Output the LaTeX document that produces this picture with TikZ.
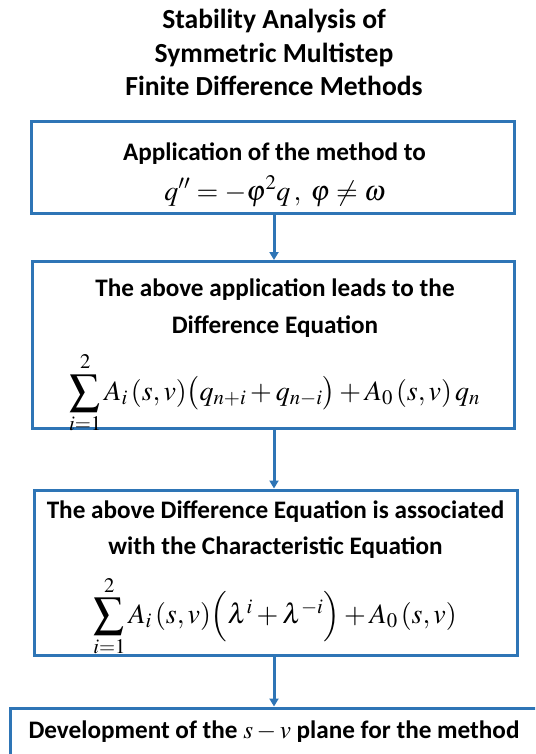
\documentclass[tikz,border=0pt]{standalone}
\usepackage{mathptmx}
\usepackage{graphicx}
\usepackage[no-math]{fontspec}
\setmainfont{Carlito}
\usetikzlibrary{arrows.meta}
\definecolor{boxblue}{RGB}{46,117,182}
\newcommand{\bigsumop}{\mathop{\vcenter{\hbox{\scalebox{1.55}{$\sum$}}}}\limits}
\begin{document}
\begin{tikzpicture}[x=1pt,y=-1pt,
  flowbox/.style={draw=boxblue, line width=3pt, rectangle, inner sep=0pt},
  titletext/.style={font=\fontsize{27.6}{33}\selectfont\bfseries, anchor=base, inner sep=0pt},
  lbl/.style={font=\fontsize{25.2}{30}\selectfont\bfseries, anchor=base, inner sep=0pt},
  eqn/.style={font=\fontsize{28}{34}\selectfont, anchor=base, inner sep=0pt},
  arr/.style={draw=boxblue, line width=3pt, -{Triangle[width=9pt,length=8pt]}}]
\useasboundingbox (0,0) rectangle (535,754);
\clip (0,0) rectangle (535,754);
% title
\node[titletext] (t1) at (274,29) {Stability Analysis of};
\node[titletext] (t2) at (274,63) {Symmetric Multistep};
\node[titletext] (t3) at (274,96) {Finite Difference Methods};
% boxes
\node[flowbox, minimum width=483pt, minimum height=91pt] (b1) at (272.5,167.5) {};
\node[flowbox, minimum width=482pt, minimum height=166.5pt] (b2) at (273,344.75) {};
\node[flowbox, minimum width=483pt, minimum height=165.5pt] (b3) at (275.5,572.75) {};
\node[flowbox, minimum width=550pt, minimum height=82pt] (b4) at (285,749) {};
% box 1
\node[lbl] (b1l1) at (274.5,160.5) {Application of the method to};
\node[eqn] (b1eq) at (275,200) {$q'' = -\varphi^{2} q\,,\; \varphi \neq \omega$};
% box 2
\node[lbl] (b2l1) at (275,296) {The above application leads to the};
\node[lbl] (b2l2) at (275,333.5) {Difference Equation};
\node[eqn] (b2eq) at (274.5,400) {$\bigsumop_{i=1}^{2} A_i\,(s,v)\bigl(q_{n+i}+q_{n-i}\bigr)+A_0\,(s,v)\,q_n$};
% box 3
\node[lbl] (b3l1) at (275.5,518) {The above Difference Equation is associated};
\node[lbl] (b3l2) at (275.5,554) {with the Characteristic Equation};
\node[eqn] (b3eq) at (275,623.5) {$\bigsumop_{i=1}^{2} A_i\,(s,v)\Bigl(\lambda^{i}+\lambda^{-i}\Bigr)+A_0\,(s,v)$};
% box 4
\node[lbl] (b4l1) at (274,738) {Development of the $s-v$ plane for the method};
% arrows
\coordinate (ax) at (274,0);
\draw[arr] (b1.south -| ax) -- (b2.north -| ax);
\draw[arr] (b2.south -| ax) -- (b3.north -| ax);
\draw[arr] (b3.south -| ax) -- (b4.north -| ax);
\end{tikzpicture}
\end{document}
